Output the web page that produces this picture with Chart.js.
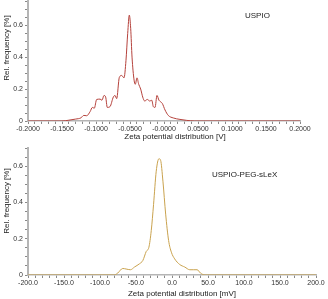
<!DOCTYPE html>
<html>
<head>
<meta charset="utf-8">
<script src="https://cdn.jsdelivr.net/npm/chart.js@4/dist/chart.umd.min.js"></script>
<style>
    body { margin: 0; background: #fff; overflow: hidden; }
    .box { position: absolute; left: 0; width: 328px; }
</style>
</head>
<body>
<div class="box" style="top:-5px;height:150px;"><canvas id="topChart"></canvas></div>
<div class="box" style="top:142px;height:157px;"><canvas id="bottomChart"></canvas></div>
<script>
// USPIO: zeta potential [V] vs rel. frequency [%]
var uspioV = [-0.2, -0.15, -0.14, -0.13, -0.122, -0.118, -0.1137, -0.1085, -0.1054, -0.1025, -0.099, -0.094, -0.0912, -0.0882, -0.0858, -0.0834, -0.0794, -0.0745, -0.072, -0.0696, -0.0657, -0.0622, -0.0588, -0.0559, -0.0534, -0.051, -0.049, -0.047, -0.044, -0.0422, -0.0397, -0.0372, -0.0343, -0.0313, -0.0284, -0.0245, -0.021, -0.018, -0.0157, -0.0132, -0.0103, -0.0074, -0.0049, -0.0025, 0.0015, 0.0063, 0.0137, 0.0235, 0.0333, 0.045, 0.2];
var uspioFreq = [0, 0, 0.005, 0.012, 0.02, 0.035, 0.033, 0.06, 0.085, 0.08, 0.135, 0.137, 0.13, 0.16, 0.15, 0.085, 0.09, 0.15, 0.16, 0.14, 0.273, 0.285, 0.27, 0.38, 0.548, 0.663, 0.58, 0.4, 0.256, 0.23, 0.27, 0.23, 0.2, 0.15, 0.125, 0.135, 0.125, 0.13, 0.09, 0.085, 0.16, 0.13, 0.12, 0.11, 0.069, 0.035, 0.019, 0.01, 0.004, 0, 0];

// USPIO-PEG-sLeX: zeta potential [mV] vs rel. frequency [%]
var pegMV = [-200, -80, -75.3, -68.4, -63.7, -57.7, -52.1, -45.1, -40.5, -35.8, -32.1, -28.8, -25.6, -21.9, -18.1, -15.8, -12.6, -8.8, -4.7, -0.9, 3.7, 10.7, 17.7, 24.7, 30.2, 34.9, 39.5, 45.6, 200];
var pegFreq = [0, 0, 0.011, 0.036, 0.033, 0.029, 0.044, 0.062, 0.08, 0.13, 0.153, 0.245, 0.39, 0.573, 0.642, 0.633, 0.518, 0.336, 0.19, 0.126, 0.089, 0.058, 0.044, 0.029, 0.029, 0.029, 0.011, 0, 0];

// tick labels
var topXTicks = [-0.2, -0.15, -0.1, -0.05, 0, 0.05, 0.1, 0.15, 0.2];
var topXLabels = ['-0.2000', '-0.1500', '-0.1000', '-0.0500', '-0.0000', '0.0500', '0.1000', '0.1500', '0.2000'];
var bottomXTicks = [-200, -150, -100, -50, 0, 50, 100, 150, 200];
var bottomXLabels = ['-200.0', '-150.0', '-100.0', '-50.0', '0.0', '50.0', '100.0', '150.0', '200.0'];
var yTicks = [0, 0.2, 0.4, 0.6];
var yLabels = ['0', '0.2', '0.4', '0.6'];

function labelFor(values, labels, v, eps) {
    for (var i = 0; i < values.length; i++) {
        if (Math.abs(values[i] - v) < eps) return labels[i];
    }
    return '';
}

function toPoints(xs, ys) {
    var pts = [];
    for (var i = 0; i < xs.length; i++) pts.push({ x: xs[i], y: ys[i] });
    return pts;
}

var tickFont = { family: 'Liberation Sans, Arial', size: 7 };

// draws axis titles and the sample name as text
function textPlugin(xTitle, xPos, yPos, name, namePos) {
    return {
        id: 'texts',
        afterDraw: function (chart) {
            var ctx = chart.ctx;
            ctx.save();
            ctx.fillStyle = '#222';
            ctx.font = '8px Liberation Sans, Arial';
            ctx.textAlign = 'center';
            ctx.textBaseline = 'middle';
            ctx.fillText(xTitle, xPos[0], xPos[1]);
            ctx.save();
            ctx.translate(yPos[0], yPos[1]);
            ctx.rotate(-Math.PI / 2);
            ctx.fillText('Rel. frequency [%]', 0, 0);
            ctx.restore();
            ctx.textAlign = 'left';
            ctx.fillText(name, namePos[0], namePos[1]);
            ctx.restore();
        }
    };
}

function makeChart(id, pts, color, xMin, xMax, xStep, xTicks, xLabels, yMax, pad, xHeight, plugin) {
    var ctx = document.getElementById(id).getContext('2d');
    return new Chart(ctx, {
        type: 'line',
        data: {
            datasets: [{
                data: pts,
                borderColor: color,
                borderWidth: 1,
                pointRadius: 0,
                cubicInterpolationMode: 'monotone',
                fill: false
            }]
        },
        options: {
            responsive: true,
            maintainAspectRatio: false,
            animation: false,
            layout: { padding: pad },
            plugins: { legend: { display: false }, tooltip: { enabled: false } },
            scales: {
                x: {
                    type: 'linear',
                    min: xMin,
                    max: xMax,
                    border: { color: '#b5b5b5', width: 1.5 },
                    grid: { drawOnChartArea: false, tickLength: 3, tickColor: '#888' },
                    ticks: {
                        stepSize: xStep,
                        autoSkip: false,
                        maxRotation: 0,
                        padding: 1,
                        color: '#333',
                        font: tickFont,
                        callback: function (v) { return labelFor(xTicks, xLabels, v, xStep / 100); }
                    },
                    afterFit: function (scale) { scale.height = xHeight; }
                },
                y: {
                    min: 0,
                    max: yMax,
                    border: { color: '#b5b5b5', width: 2 },
                    grid: { drawOnChartArea: false, tickLength: 3, tickColor: '#888' },
                    ticks: {
                        stepSize: 0.05,
                        autoSkip: false,
                        padding: 2,
                        color: '#333',
                        font: tickFont,
                        callback: function (v) { return labelFor(yTicks, yLabels, v, 0.001); }
                    },
                    afterFit: function (scale) { scale.width = 28; }
                }
            }
        },
        plugins: [plugin]
    });
}

makeChart('topChart', toPoints(uspioV, uspioFreq), '#b5423c', -0.2, 0.2, 0.01, topXTicks, topXLabels, 0.75,
    { left: 0, right: 28, top: 0, bottom: 0 }, 24,
    textPlugin('Zeta potential distribution [V]', [175, 142], [7, 53], 'USPIO', [245, 21]));

makeChart('bottomChart', toPoints(pegMV, pegFreq), '#c9a24e', -200, 200, 10, bottomXTicks, bottomXLabels, 0.7,
    { left: 0, right: 12, top: 0, bottom: 0 }, 24,
    textPlugin('Zeta potential distribution [mV]', [182, 152], [7, 59], 'USPIO-PEG-sLeX', [212, 33]));
</script>
</body>
</html>
